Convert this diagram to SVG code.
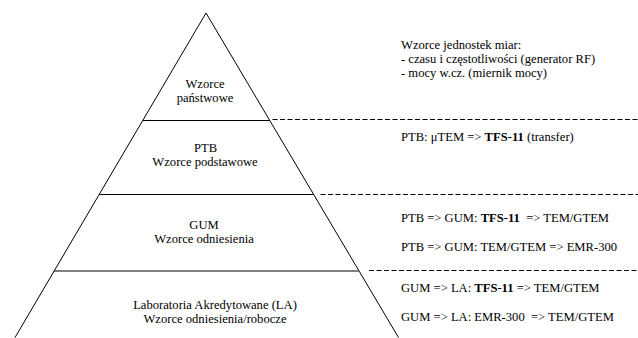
<svg xmlns="http://www.w3.org/2000/svg" width="638" height="338" viewBox="0 0 638 338">
<style>
.edge{fill:none;stroke:#000;stroke-width:1}
.dash{fill:none;stroke:#000;stroke-width:1;stroke-dasharray:5 2.5}
.t text{font-family:Liberation Serif, Tinos, DejaVu Serif, serif;font-size:12.6px;fill:#000}
.b{font-weight:bold}
</style>
<rect width="638" height="338" fill="#fff"/>
<g id="pyramid">
<polyline class="edge" points="15,337.5 206,13 398.5,337.5"/>
<line class="edge" x1="143" y1="120.5" x2="269.5" y2="120.5"/>
<line class="edge" x1="99.5" y1="194.5" x2="313.5" y2="194.5"/>
<line class="edge" x1="54" y1="271" x2="358.5" y2="271"/>
</g>
<g id="connectors">
<line class="dash" x1="272.5" y1="119.5" x2="638" y2="119.5"/>
<line class="dash" x1="320.5" y1="194.5" x2="638" y2="194.5"/>
<line class="dash" x1="369" y1="270.5" x2="638" y2="270.5"/>
</g>
<g class="t">
<g id="level-panstwowe" text-anchor="middle">
<text x="205" y="87.5">Wzorce</text>
<text x="205" y="101.5">państwowe</text>
</g>
<g id="level-ptb" text-anchor="middle">
<text x="205.5" y="151.5">PTB</text>
<text x="205" y="165.5">Wzorce podstawowe</text>
</g>
<g id="level-gum" text-anchor="middle">
<text x="204" y="228.5">GUM</text>
<text x="204" y="242.5">Wzorce odniesienia</text>
</g>
<g id="level-la" text-anchor="middle">
<text x="215" y="308.5">Laboratoria Akredytowane (LA)</text>
<text x="215" y="322.5">Wzorce odniesienia/robocze</text>
</g>
<g id="note-panstwowe">
<text x="401" y="48.5">Wzorce jednostek miar:</text>
<text x="401" y="62.5">- czasu i częstotliwości (generator RF)</text>
<text x="401" y="76.5">- mocy w.cz. (miernik mocy)</text>
</g>
<g id="note-ptb">
<text x="401" y="141">PTB: μTEM =&gt; <tspan class="b">TFS-11</tspan> (transfer)</text>
</g>
<g id="note-gum">
<text x="401" y="222" xml:space="preserve">PTB =&gt; GUM: <tspan class="b">TFS-11</tspan>  =&gt; TEM/GTEM</text>
<text x="401" y="250.5">PTB =&gt; GUM: TEM/GTEM =&gt; EMR-300</text>
</g>
<g id="note-la">
<text x="401" y="291.5">GUM =&gt; LA: <tspan class="b">TFS-11</tspan> =&gt; TEM/GTEM</text>
<text x="401" y="321" xml:space="preserve">GUM =&gt; LA: EMR-300  =&gt; TEM/GTEM</text>
</g>
</g>
</svg>
